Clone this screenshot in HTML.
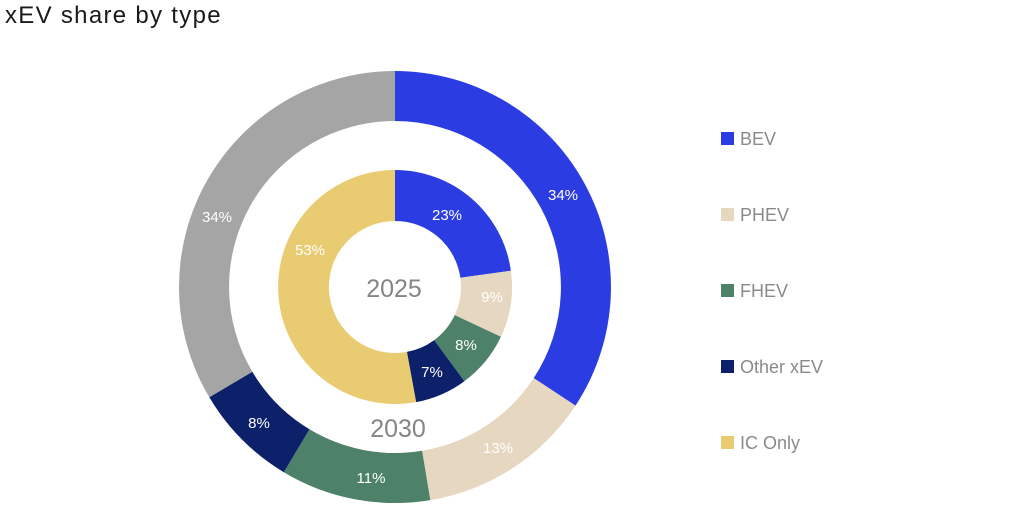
<!DOCTYPE html>
<html>
<head>
<meta charset="utf-8">
<style>
  html, body { margin:0; padding:0; background:#ffffff; }
  body { width:1024px; height:510px; overflow:hidden; position:relative; font-family:"Liberation Sans", sans-serif; }
  svg { position:absolute; left:0; top:0; }
</style>
</head>
<body>
<svg width="1024" height="510" viewBox="0 0 1024 510" xmlns="http://www.w3.org/2000/svg">
  <rect width="1024" height="510" fill="#ffffff"/>
  <text x="5" y="23" font-family="Liberation Sans, sans-serif" font-size="24" letter-spacing="1.3" fill="#1a1a1a">xEV share by type</text>

  <!-- Outer ring (2030) -->
  <path d="M395,71 A216,216 0 0 1 575.5,405.6 L533.7,378.1 A166,166 0 0 0 395,121 Z" fill="#2b3de2"/>
  <path d="M575.5,405.6 A216,216 0 0 1 430.3,500.1 L422.1,450.8 A166,166 0 0 0 533.7,378.1 Z" fill="#e6d7c1"/>
  <path d="M430.3,500.1 A216,216 0 0 1 283.8,472.2 L309.5,429.3 A166,166 0 0 0 422.1,450.8 Z" fill="#4e8169"/>
  <path d="M283.8,472.2 A216,216 0 0 1 209.3,397.3 L252.3,371.7 A166,166 0 0 0 309.5,429.3 Z" fill="#0c216a"/>
  <path d="M209.3,397.3 A216,216 0 0 1 395,71 L395,121 A166,166 0 0 0 252.3,371.7 Z" fill="#a5a5a5"/>

  <!-- Inner ring (2025) -->
  <path d="M395,170 A117,117 0 0 1 510.9,270.7 L460.4,277.8 A66,66 0 0 0 395,221 Z" fill="#2b3de2"/>
  <path d="M510.9,270.7 A117,117 0 0 1 500.9,336.8 L454.7,315.1 A66,66 0 0 0 460.4,277.8 Z" fill="#e6d7c1"/>
  <path d="M500.9,336.8 A117,117 0 0 1 464.4,381.2 L434.2,340.1 A66,66 0 0 0 454.7,315.1 Z" fill="#4e8169"/>
  <path d="M464.4,381.2 A117,117 0 0 1 416.1,402.1 L406.9,351.9 A66,66 0 0 0 434.2,340.1 Z" fill="#0c216a"/>
  <path d="M416.1,402.1 A117,117 0 1 1 395,170 L395,221 A66,66 0 1 0 406.9,351.9 Z" fill="#e9cb72"/>

  <g font-family="Liberation Sans, sans-serif" font-size="15" fill="#ffffff" text-anchor="middle">
    <text x="563" y="200">34%</text>
    <text x="498" y="453">13%</text>
    <text x="371" y="483">11%</text>
    <text x="259" y="428">8%</text>
    <text x="217" y="222">34%</text>
    <text x="447" y="220">23%</text>
    <text x="492" y="302">9%</text>
    <text x="466" y="350">8%</text>
    <text x="432" y="377">7%</text>
    <text x="310" y="255">53%</text>
  </g>

  <g font-family="Liberation Sans, sans-serif" font-size="25" fill="#858585" text-anchor="middle">
    <text x="394" y="297">2025</text>
    <text x="398" y="437">2030</text>
  </g>

  <!-- Legend -->
  <g font-family="Liberation Sans, sans-serif" font-size="18" fill="#8a8a8a">
    <rect x="721" y="132" width="13" height="13" fill="#2b3de2"/>
    <text x="740" y="145">BEV</text>
    <rect x="721" y="208" width="13" height="13" fill="#e6d7c1"/>
    <text x="740" y="221">PHEV</text>
    <rect x="721" y="284" width="13" height="13" fill="#4e8169"/>
    <text x="740" y="297">FHEV</text>
    <rect x="721" y="360" width="13" height="13" fill="#0c216a"/>
    <text x="740" y="373">Other xEV</text>
    <rect x="721" y="436" width="13" height="13" fill="#e9cb72"/>
    <text x="740" y="449">IC Only</text>
  </g>
</svg>
</body>
</html>
